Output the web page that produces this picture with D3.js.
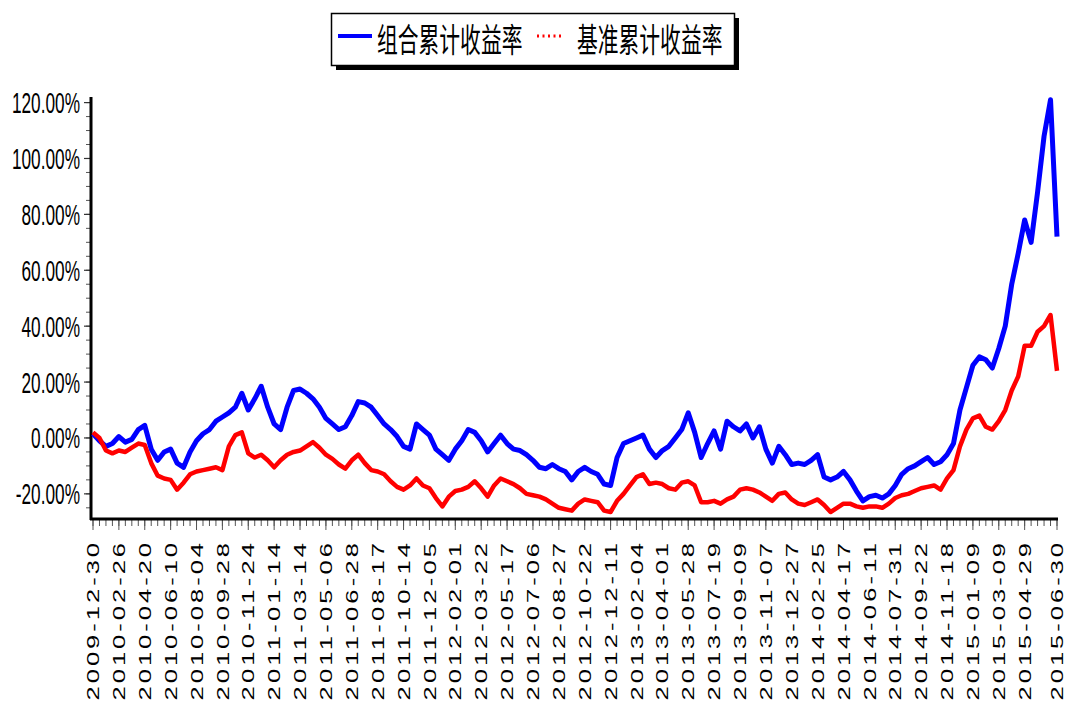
<!DOCTYPE html>
<html>
<head>
<meta charset="utf-8">
<script src="https://cdn.jsdelivr.net/npm/d3@7/dist/d3.min.js"></script>
<style>
  html, body { margin: 0; padding: 0; background: #fff; }
  svg { display: block; }
</style>
</head>
<body>
<svg id="chart" width="1066" height="706"></svg>
<script>
// tick labels on the x axis (one every ~37 trading days)
const dateLabels = [
  '2009-12-30','2010-02-26','2010-04-20','2010-06-10','2010-08-04','2010-09-28',
  '2010-11-24','2011-01-14','2011-03-14','2011-05-06','2011-06-28','2011-08-17',
  '2011-10-14','2011-12-05','2012-02-01','2012-03-22','2012-05-17','2012-07-06',
  '2012-08-27','2012-10-22','2012-12-11','2013-02-04','2013-04-01','2013-05-28',
  '2013-07-19','2013-09-09','2013-11-07','2013-12-27','2014-02-25','2014-04-17',
  '2014-06-11','2014-07-31','2014-09-22','2014-11-18','2015-01-09','2015-03-09',
  '2015-04-29','2015-06-30'
];

// series names
const seriesNames = ['组合累计收益率', '基准累计收益率'];

// sampled values (%), 4 samples between two date labels
const portfolio = [
  1.5, -1, -3, -2, 0.5, -1.5, -0.5, 3, 4.5, -4,
  -8, -5, -4, -9, -10.5, -5, -1, 1.5, 3, 6,
  7.5, 9, 11, 16, 10, 14, 18.5, 11, 5, 3,
  11, 17, 17.5, 16, 14, 11, 7, 5, 3, 4,
  8, 13, 12.5, 11, 8, 5, 3, 0.5, -3, -4,
  5, 3, 1, -4, -6, -8, -4, -1, 3, 2,
  -1, -5, -2, 1, -2, -4, -4.5, -6, -8, -10.5,
  -11, -9.5, -11, -12, -15, -12, -10.5, -12, -13, -16.5,
  -17, -7, -2, -1, 0, 1, -4, -7, -4.5, -3,
  0, 3, 9, 2, -7, -2, 2.5, -4, 6, 4,
  2.5, 5, 0, 4, -4, -9, -3, -6, -9.5, -9,
  -9.5, -8, -6, -14, -15, -14, -12, -15, -19, -22.5,
  -21, -20.5, -21.5, -20, -17, -13, -11, -10, -8.5, -7,
  -9.5, -8.5, -6, -2, 10, 18, 26, 29, 28, 25,
  32, 40, 55, 66, 78, 70, 88, 108, 121, 72
];

const benchmark = [
  2, 0, -4.5, -5.5, -4.5, -5, -3.5, -2, -2.5, -9,
  -13.5, -14.5, -15, -18.5, -16, -13, -12, -11.5, -11, -10.5,
  -11.5, -3, 1, 2, -5.5, -7, -6, -8, -10.5, -8,
  -6, -5, -4.5, -3, -1.5, -3.5, -6, -7.5, -9.5, -11,
  -8, -6, -9, -11.5, -12, -13, -15.5, -17.5, -18.5, -17,
  -14.5, -17, -18, -21.5, -24.5, -21, -19, -18.5, -17.5, -15.5,
  -18, -21, -17, -14.5, -15.5, -16.5, -18, -20, -20.5, -21,
  -22, -23.5, -25, -25.5, -26, -23.5, -22, -22.5, -23, -26,
  -26.5, -22.5, -20, -17, -14, -13, -16.5, -16, -16.5, -18,
  -18.5, -16, -15.5, -17, -23, -23, -22.5, -23.5, -22, -21,
  -18.5, -18, -18.5, -19.5, -21, -22.5, -20, -19.5, -22, -23.5,
  -24, -23, -22, -24, -26.5, -25, -23.5, -23.5, -24.5, -25,
  -24.5, -24.5, -25, -23.5, -21.5, -20.5, -20, -19, -18, -17.5,
  -17, -18.5, -14.5, -11.5, -3, 3, 7, 8, 4, 3,
  6, 10, 17, 22, 33, 33, 38, 40, 44, 24
];

const yTickValues = [-20, 0, 20, 40, 60, 80, 100, 120];
const samplesPerLabel = 4;

const svg = d3.select('#chart');
const FONT = 'Liberation Sans, Arial, sans-serif';
const CJK = '"Noto Sans CJK SC", sans-serif';

const lastPos = (portfolio.length - 1) / samplesPerLabel;

const x = d3.scaleLinear()
  .domain([0, lastPos])
  .range([93, 1057]);

const y = d3.scaleLinear()
  .domain([-29, 122])
  .range([519, 97]);

const labelPos = (i) => i === dateLabels.length - 1 ? lastPos : i;

// y axis: minor ticks every 5%, labelled every 20%
const yAxis = svg.append('g').attr('class', 'y-axis');
yAxis.selectAll('line.minor')
  .data(d3.range(-25, 121, 5))
  .enter().append('line')
  .attr('class', 'minor')
  .attr('x1', 86).attr('x2', 91)
  .attr('y1', d => y(d)).attr('y2', d => y(d))
  .attr('stroke', '#555').attr('stroke-width', 1);

yAxis.selectAll('line.major')
  .data(yTickValues)
  .enter().append('line')
  .attr('class', 'major')
  .attr('x1', 84).attr('x2', 91)
  .attr('y1', d => y(d)).attr('y2', d => y(d))
  .attr('stroke', '#333').attr('stroke-width', 1.2);

yAxis.selectAll('text')
  .data(yTickValues)
  .enter().append('text')
  .attr('transform', d => `translate(80, ${y(d) + 10.5}) scale(0.575, 1)`)
  .attr('text-anchor', 'end')
  .attr('font-family', FONT)
  .attr('font-size', 30)
  .attr('fill', '#000')
  .text(d => d.toFixed(2) + '%');

yAxis.append('line')
  .attr('x1', 91).attr('x2', 91)
  .attr('y1', y.range()[1]).attr('y2', 520)
  .attr('stroke', '#000').attr('stroke-width', 3);

// x axis
const xAxis = svg.append('g').attr('class', 'x-axis');
xAxis.selectAll('line.minor')
  .data(d3.range(0, portfolio.length))
  .enter().append('line')
  .attr('class', 'minor')
  .attr('x1', d => x(d / samplesPerLabel)).attr('x2', d => x(d / samplesPerLabel))
  .attr('y1', 520).attr('y2', 526)
  .attr('stroke', '#555').attr('stroke-width', 1);

xAxis.selectAll('line.major')
  .data(dateLabels)
  .enter().append('line')
  .attr('class', 'major')
  .attr('x1', (d, i) => x(labelPos(i))).attr('x2', (d, i) => x(labelPos(i)))
  .attr('y1', 520).attr('y2', 530)
  .attr('stroke', '#555').attr('stroke-width', 1);

// rotated date labels, stretched along the text direction
xAxis.selectAll('text')
  .data(dateLabels)
  .enter().append('text')
  .attr('transform', (d, i) => `translate(${x(labelPos(i))}, 543) rotate(-90) scale(1.5, 1)`)
  .attr('text-anchor', 'end')
  .attr('dy', '0.36em')
  .attr('font-family', FONT)
  .attr('font-size', 17)
  .attr('textLength', 105)
  .attr('lengthAdjust', 'spacing')
  .attr('fill', '#000')
  .text(d => d);

xAxis.append('line')
  .attr('x1', 90).attr('x2', 1058)
  .attr('y1', 519).attr('y2', 519)
  .attr('stroke', '#000').attr('stroke-width', 3);

// lines
const line = d3.line()
  .x((d, i) => x(i / samplesPerLabel))
  .y(d => y(d))
  .curve(d3.curveLinear);

svg.append('path')
  .datum(portfolio)
  .attr('d', line)
  .attr('fill', 'none')
  .attr('stroke', '#0000ff')
  .attr('stroke-width', 5)
  .attr('stroke-linejoin', 'round');

svg.append('path')
  .datum(benchmark)
  .attr('d', line)
  .attr('fill', 'none')
  .attr('stroke', '#ff0000')
  .attr('stroke-width', 4.5)
  .attr('stroke-linejoin', 'round');

// legend with drop shadow
const legend = svg.append('g').attr('class', 'legend');
legend.append('rect')
  .attr('x', 336).attr('y', 18).attr('width', 403).attr('height', 52)
  .attr('fill', '#000');
legend.append('rect')
  .attr('x', 331.5).attr('y', 13.5).attr('width', 403).attr('height', 52)
  .attr('fill', '#fff').attr('stroke', '#000').attr('stroke-width', 1.5);

legend.append('line')
  .attr('x1', 338).attr('x2', 372).attr('y1', 36).attr('y2', 36)
  .attr('stroke', '#0000ff').attr('stroke-width', 4);
legend.append('line')
  .attr('x1', 537).attr('x2', 564).attr('y1', 36).attr('y2', 36)
  .attr('stroke', '#ff0000').attr('stroke-width', 3)
  .attr('stroke-dasharray', '2,3.5');

legend.selectAll('text')
  .data(seriesNames)
  .enter().append('text')
  .attr('transform', (d, i) => `translate(${i === 0 ? 377 : 577}, 52) scale(0.63, 1)`)
  .attr('font-family', CJK)
  .attr('font-size', 33)
  .attr('fill', '#000')
  .text(d => d);
</script>
</body>
</html>
